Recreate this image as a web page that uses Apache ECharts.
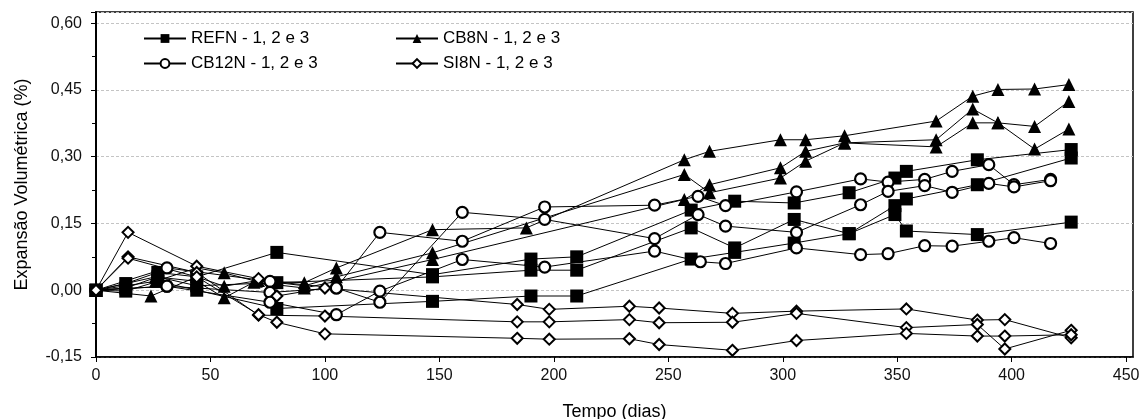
<!DOCTYPE html>
<html>
<head>
<meta charset="utf-8">
<title>Expansão Volumétrica</title>
<script src="https://cdn.jsdelivr.net/npm/echarts@6/dist/echarts.min.js"></script>
<style>
  html, body { margin: 0; padding: 0; background: #fff; }
  #chart { width: 1139px; height: 419px; }
</style>
</head>
<body>
<div id="chart"></div>
<script>
// Volumetric expansion (%) vs. time (days), three specimens per mix
const groupNames = ['REFN - 1, 2 e 3', 'CB8N - 1, 2 e 3', 'CB12N - 1, 2 e 3', 'SI8N - 1, 2 e 3'];

const refn1 = [[0,0],[13,0.015],[27,0.04],[44,0.03],[79,0.085],[147,0.035],[190,0.07],[210,0.075],[260,0.18],[279,0.2],[305,0.196],[329,0.219],[349,0.252],[354,0.267],[385,0.293],[426,0.316]];
const refn2 = [[0,0],[13,0.005],[27,0.03],[44,0.01],[79,0.017],[147,0.03],[190,0.045],[210,0.045],[260,0.14],[279,0.095],[305,0.159],[329,0.127],[349,0.19],[354,0.205],[385,0.237],[426,0.297]];
const refn3 = [[0,0],[13,-0.002],[27,0.02],[44,0.0],[79,-0.041],[147,-0.025],[190,-0.013],[210,-0.013],[260,0.07],[279,0.085],[305,0.106],[329,0.127],[349,0.17],[354,0.133],[385,0.125],[426,0.153]];

const cb8n1 = [[0,0],[26,0.02],[44,0.05],[56,0.039],[70,0.02],[91,0.017],[105,0.05],[147,0.136],[188,0.14],[257,0.293],[268,0.312],[299,0.338],[310,0.338],[327,0.347],[367,0.38],[383,0.436],[394,0.451],[410,0.452],[425,0.462]];
const cb8n2 = [[0,0],[24,-0.013],[44,0.03],[56,0.009],[71,0.022],[91,0.01],[105,0.03],[147,0.084],[257,0.26],[268,0.219],[299,0.252],[310,0.29],[327,0.331],[367,0.338],[383,0.407],[394,0.376],[410,0.317],[425,0.362]];
const cb8n3 = [[0,0],[26,0.03],[44,0.02],[56,-0.017],[69,0.018],[91,0.005],[105,0.02],[147,0.069],[257,0.204],[268,0.237],[299,0.275],[310,0.312],[327,0.331],[367,0.322],[383,0.376],[394,0.376],[410,0.368],[425,0.424]];

const cb12n1 = [[0,0],[31,0.05],[76,0.02],[105,0.005],[124,0.13],[160,0.11],[196,0.187],[244,0.191],[263,0.211],[275,0.19],[306,0.221],[334,0.25],[346,0.243],[362,0.249],[374,0.267],[390,0.282],[401,0.237],[417,0.249]];
const cb12n2 = [[0,0],[31,0.009],[76,-0.005],[105,0.005],[124,-0.027],[160,0.175],[196,0.159],[244,0.116],[263,0.17],[275,0.144],[306,0.13],[334,0.192],[346,0.222],[362,0.235],[374,0.22],[390,0.24],[401,0.232],[417,0.246]];
const cb12n3 = [[0,0],[31,0.009],[76,-0.027],[105,-0.055],[124,-0.002],[160,0.069],[196,0.052],[244,0.088],[264,0.064],[275,0.06],[306,0.095],[334,0.08],[346,0.082],[362,0.1],[374,0.099],[390,0.11],[401,0.118],[417,0.105]];

const si8n1 = [[0,0],[14,0.13],[44,0.054],[71,0.026],[79,-0.013],[100,0.005],[184,-0.032],[198,-0.043],[233,-0.036],[246,-0.04],[278,-0.052],[306,-0.047],[354,-0.042],[385,-0.067],[397,-0.066],[426,-0.107]];
const si8n2 = [[0,0],[14,0.075],[44,0.04],[71,-0.056],[100,-0.058],[184,-0.071],[198,-0.071],[233,-0.066],[246,-0.073],[278,-0.072],[306,-0.052],[354,-0.084],[385,-0.077],[397,-0.132],[426,-0.09]];
const si8n3 = [[0,0],[14,0.072],[44,0.03],[71,-0.055],[79,-0.072],[100,-0.098],[184,-0.108],[198,-0.11],[233,-0.109],[246,-0.122],[278,-0.135],[306,-0.113],[354,-0.097],[385,-0.103],[397,-0.103],[426,-0.1]];

const xTicks = [0, 50, 100, 150, 200, 250, 300, 350, 400, 450];
const yTicks = [-0.15, 0, 0.15, 0.30, 0.45, 0.60];

const FONT = '"Liberation Sans", Arial, sans-serif';

const markerStyles = {
  'REFN - 1, 2 e 3':  { symbol: 'rect', symbolSize: 13, itemStyle: { color: '#000', borderColor: '#000', borderWidth: 0 } },
  'CB8N - 1, 2 e 3':  { symbol: 'triangle', symbolSize: 13, itemStyle: { color: '#000', borderColor: '#000', borderWidth: 0 } },
  'CB12N - 1, 2 e 3': { symbol: 'circle', symbolSize: 11, itemStyle: { color: '#fff', borderColor: '#000', borderWidth: 2.2 } },
  'SI8N - 1, 2 e 3':  { symbol: 'diamond', symbolSize: 11, itemStyle: { color: '#fff', borderColor: '#000', borderWidth: 2 } }
};

const groups = [
  [groupNames[0], [refn1, refn2, refn3]],
  [groupNames[1], [cb8n1, cb8n2, cb8n3]],
  [groupNames[2], [cb12n1, cb12n2, cb12n3]],
  [groupNames[3], [si8n1, si8n2, si8n3]]
];

const series = [];
groups.forEach(([name, reps]) => {
  const m = markerStyles[name];
  reps.forEach(data => {
    series.push({
      name: name,
      type: 'line',
      data: data,
      symbol: m.symbol,
      symbolSize: m.symbolSize,
      showAllSymbol: true,
      itemStyle: m.itemStyle,
      lineStyle: { color: '#000', width: 1 },
      emphasis: { disabled: true },
      animation: false
    });
  });
});

const fmtY = v => v.toFixed(2).replace('.', ',');
const isTick = (v, list) => list.some(t => Math.abs(t - v) < 1e-6);

const legendCommon = {
  orient: 'vertical',
  top: 30,
  padding: 0,
  itemGap: 8,
  itemWidth: 42,
  itemHeight: 11,
  textStyle: { fontFamily: FONT, fontSize: 17, color: '#000' },
  selectedMode: false
};

const chart = echarts.init(document.getElementById('chart'), null, { renderer: 'canvas' });
chart.setOption({
  backgroundColor: '#fff',
  animation: false,
  grid: {
    left: 96, right: 6, top: 12, bottom: 62,
    outerBoundsMode: 'none',
    show: true, borderColor: '#000', borderWidth: 1.5, backgroundColor: 'transparent'
  },
  legend: [
    Object.assign({ left: 143, data: [groupNames[0], groupNames[2]] }, legendCommon),
    Object.assign({ left: 395, data: [groupNames[1], groupNames[3]] }, legendCommon)
  ],
  xAxis: {
    type: 'value',
    min: 0,
    max: 453,
    interval: 50,
    name: 'Tempo (dias)',
    nameLocation: 'middle',
    nameGap: 46,
    nameTextStyle: { fontFamily: FONT, fontSize: 18, color: '#000' },
    axisLine: { show: true, onZero: false, lineStyle: { color: '#000', width: 1.5 } },
    axisTick: { show: true, length: 5, lineStyle: { color: '#000' } },
    axisLabel: {
      fontFamily: FONT, fontSize: 16, color: '#111', margin: 11,
      showMaxLabel: false,
      formatter: v => isTick(v, xTicks) ? String(v) : ''
    },
    splitLine: { show: false }
  },
  yAxis: {
    type: 'value',
    min: -0.15,
    max: 0.625,
    interval: 0.15,
    name: 'Expansão Volumétrica (%)',
    nameLocation: 'middle',
    nameGap: 65,
    nameTextStyle: { fontFamily: FONT, fontSize: 18, color: '#000' },
    axisLine: { show: true, onZero: false, lineStyle: { color: '#000', width: 2 } },
    axisTick: { show: true, length: 5, lineStyle: { color: '#000' } },
    minorTick: { show: true, splitNumber: 2, length: 4, lineStyle: { color: '#000' } },
    axisLabel: {
      fontFamily: FONT, fontSize: 16, color: '#111', margin: 14,
      showMaxLabel: false,
      formatter: v => isTick(v, yTicks) ? fmtY(v) : ''
    },
    splitLine: {
      show: true,
      lineStyle: { color: '#c4c4c4', type: [3, 2], width: 1 }
    }
  },
  series: series
});
</script>
</body>
</html>
